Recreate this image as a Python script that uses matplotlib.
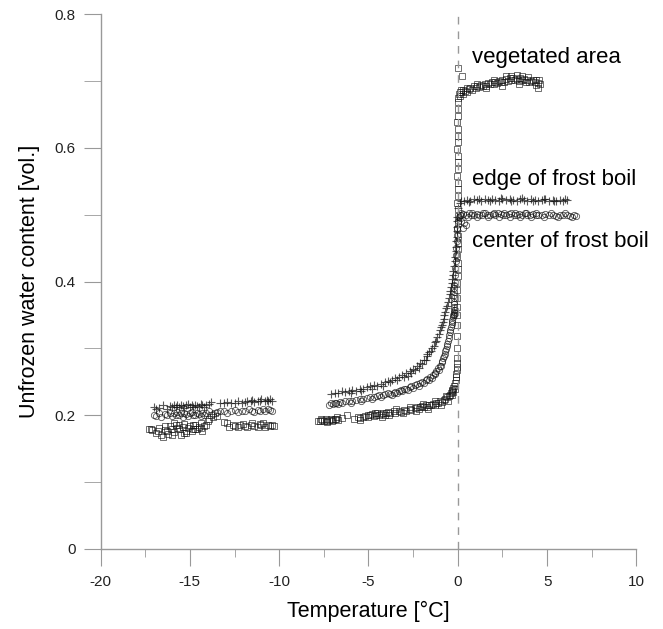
import matplotlib
matplotlib.use("Agg")
import matplotlib.pyplot as plt
from matplotlib.ticker import MultipleLocator

plt.rcParams['font.family'] = ['Liberation Sans', 'DejaVu Sans']
plt.rcParams['axes.unicode_minus'] = False

# (temperature [degC], unfrozen water content [vol.])

# vegetated area (squares)
veg_cold = [(-17.3, .179), (-17.2, .180), (-17.1, .178), (-16.9, .173), (-16.8, .176), (-16.7, .181),
            (-16.6, .170), (-16.5, .168), (-16.4, .184), (-16.3, .177), (-16.2, .172), (-16.1, .184),
            (-16.0, .179), (-15.9, .175), (-15.8, .186), (-15.7, .181), (-15.6, .179), (-15.5, .171),
            (-15.4, .183), (-15.3, .187), (-15.2, .176), (-15.1, .181), (-15.0, .184), (-14.9, .176),
            (-14.8, .186), (-14.7, .180), (-14.6, .179), (-14.5, .183), (-14.4, .188), (-14.3, .177),
            (-14.2, .184), (-16.4, .178), (-16.0, .170), (-15.6, .186), (-15.2, .174), (-14.8, .179),
            (-14.4, .181), (-15.9, .188), (-15.3, .173), (-14.7, .185),
            (-14.1, .186), (-14.0, .192), (-13.9, .195), (-13.8, .200), (-13.7, .197), (-13.6, .204),
            (-13.5, .199),
            (-13.1, .190), (-12.9, .188), (-12.8, .183), (-12.6, .186), (-12.5, .184), (-12.3, .182),
            (-12.2, .185), (-12.0, .187), (-11.9, .184), (-11.8, .182), (-11.6, .186), (-11.5, .188),
            (-11.4, .184), (-11.2, .183), (-11.1, .187), (-11.0, .185), (-10.9, .189), (-10.8, .183),
            (-10.6, .186), (-10.5, .184), (-10.4, .185), (-10.3, .184)]
veg_warm = [(-7.8, .192), (-7.7, .191), (-7.6, .193), (-7.5, .192), (-7.4, .194), (-7.3, .192),
            (-7.2, .193), (-7.1, .195), (-7.0, .193), (-6.9, .194), (-6.8, .195), (-6.7, .193),
            (-6.5, .196), (-6.2, .200), (-5.8, .195), (-5.6, .197), (-5.5, .196), (-5.3, .198),
            (-5.2, .199), (-5.0, .198), (-4.9, .200), (-4.8, .202), (-4.7, .199), (-4.6, .201),
            (-4.5, .203), (-4.4, .200), (-4.3, .202), (-4.2, .204), (-4.1, .201), (-4.0, .203),
            (-3.9, .205), (-3.8, .203), (-3.6, .206), (-3.5, .204), (-3.3, .207), (-3.2, .205),
            (-3.0, .208), (-2.9, .207), (-2.7, .210), (-2.6, .208), (-2.4, .211), (-2.3, .213),
            (-2.2, .210), (-2.1, .212), (-2.0, .214), (-1.9, .212), (-1.8, .215), (-1.7, .213),
            (-1.6, .216), (-1.5, .215), (-1.4, .217), (-1.3, .216), (-1.2, .219), (-1.1, .218),
            (-1.0, .221), (-0.9, .220), (-0.8, .223), (-0.7, .225), (-0.6, .227), (-0.5, .229),
            (-0.45, .231), (-0.4, .233), (-0.35, .236), (-0.3, .238), (-0.25, .241), (-0.2, .244),
            (-0.16, .248), (-0.13, .252), (-0.1, .257), (-0.08, .262), (-0.07, .267), (-0.06, .272),
            (-0.05, .278),
            (-7.65, .195), (-7.35, .190), (-7.05, .191), (-6.75, .197), (-5.45, .193), (-5.05, .201),
            (-4.65, .204), (-4.25, .198), (-3.85, .200), (-3.45, .209), (-3.05, .203), (-2.65, .213),
            (-2.35, .206), (-1.95, .217), (-1.65, .210), (-1.25, .222), (-0.95, .215), (-0.65, .229),
            (-0.55, .222), (-0.35, .230), (-0.25, .235), (-0.15, .240)]
veg_thaw = [(-0.05, .285), (-0.04, .300), (-0.04, .318), (-0.03, .335), (-0.03, .350), (-0.02, .362),
            (-0.03, .375), (-0.02, .388), (-0.02, .398), (0.0, .408), (-0.01, .418), (0.01, .428),
            (-0.02, .438), (0.0, .448), (-0.01, .458), (0.01, .468), (-0.02, .478), (0.0, .488),
            (-0.01, .498), (0.01, .508), (-0.02, .518), (0.0, .528), (-0.01, .538), (0.01, .548),
            (-0.02, .558), (0.0, .568), (-0.01, .578), (0.01, .588), (-0.02, .598), (0.0, .608),
            (-0.01, .618), (0.01, .628), (-0.02, .638), (0.0, .648), (-0.01, .658), (0.01, .668),
            (0.0, .675)]
veg_plateau = [(0.05, .680), (0.1, .683), (0.15, .686), (0.2, .684), (0.3, .687), (0.4, .685),
               (0.5, .689), (0.6, .688), (0.7, .690), (0.8, .687), (0.9, .692), (1.0, .690),
               (1.1, .693), (1.2, .691), (1.3, .694), (1.4, .692), (1.5, .696), (1.6, .693),
               (1.7, .697), (1.8, .695), (1.9, .698), (2.0, .696), (2.1, .699), (2.2, .697),
               (2.3, .700), (2.4, .698), (2.5, .702), (2.6, .699), (2.7, .703), (2.8, .700),
               (2.9, .704), (3.0, .701), (3.1, .705), (3.2, .702), (3.3, .703), (3.4, .700),
               (3.5, .704), (3.6, .701), (3.7, .703), (3.8, .699), (3.9, .701), (4.0, .698),
               (4.1, .700), (4.2, .702), (4.3, .699), (4.4, .701), (4.5, .697), (4.6, .696),
               (4.5, .689), (3.3, .709), (2.7, .707), (3.6, .708), (0.02, .720), (0.25, .707),
               (0.1, .678), (0.3, .681),
               (0.5, .683), (1.05, .696), (1.55, .690), (2.05, .702), (2.45, .693), (2.95, .708),
               (3.45, .696), (3.95, .706), (4.35, .694), (4.55, .702)]

# edge of frost boil (plus)
edge_cold = [(-17.0, .213), (-16.9, .209), (-16.7, .211), (-16.5, .215), (-16.3, .210), (-16.1, .214),
             (-16.0, .212), (-15.9, .216), (-15.8, .213), (-15.7, .215), (-15.6, .212), (-15.5, .216),
             (-15.4, .214), (-15.3, .211), (-15.2, .215), (-15.1, .217), (-15.0, .213), (-14.9, .215),
             (-14.8, .212), (-14.7, .216), (-14.6, .214), (-14.5, .213), (-14.4, .217), (-14.3, .215),
             (-14.2, .213), (-14.1, .215), (-13.9, .217), (-13.8, .220),
             (-13.3, .218), (-13.1, .219), (-12.9, .220), (-12.7, .218), (-12.5, .219), (-12.3, .221),
             (-12.1, .219), (-11.9, .220), (-11.8, .222), (-11.6, .221), (-11.5, .223), (-11.4, .220),
             (-11.2, .222), (-11.1, .221), (-11.0, .224), (-10.8, .222), (-10.7, .223), (-10.6, .221),
             (-10.5, .224), (-10.4, .222)]
edge_warm = [(-7.1, .232), (-6.9, .234), (-6.7, .233), (-6.5, .236), (-6.3, .235), (-6.1, .237),
             (-5.9, .238), (-5.7, .237), (-5.5, .240), (-5.3, .239), (-5.1, .242), (-4.9, .243),
             (-4.7, .245), (-4.5, .244), (-4.3, .247), (-4.1, .249), (-3.9, .251), (-3.7, .253),
             (-3.5, .255), (-3.3, .257), (-3.1, .260), (-2.9, .263), (-2.7, .266), (-2.5, .269),
             (-2.3, .273), (-2.1, .278), (-1.9, .283), (-1.75, .288), (-1.6, .295), (-1.45, .301),
             (-1.3, .309), (-1.15, .317), (-1.0, .327), (-0.9, .335), (-0.8, .344), (-0.7, .354),
             (-0.6, .364), (-0.5, .375), (-0.42, .386), (-0.35, .398), (-0.28, .410), (-0.22, .423),
             (-0.16, .437), (-0.11, .452), (-0.07, .467), (-0.04, .482), (-0.02, .497), (0.0, .510),
             (-6.0, .233), (-5.4, .236), (-4.8, .240), (-4.2, .244), (-3.8, .249), (-3.4, .252),
             (-3.0, .257), (-2.8, .258), (-2.6, .263), (-2.4, .267), (-2.2, .271), (-2.0, .276),
             (-1.8, .282), (-1.7, .292), (-1.5, .296), (-1.35, .304), (-1.2, .311), (-1.05, .322),
             (-0.95, .332), (-0.85, .340), (-0.75, .350), (-0.65, .360), (-0.55, .370), (-0.45, .381),
             (-0.38, .392), (-0.3, .404), (-0.25, .416), (-0.18, .430), (-0.13, .445), (-0.09, .460),
             (-0.05, .475), (-0.03, .490)]
edge_plateau = [(0.1, .517), (0.2, .520), (0.35, .521), (0.5, .522), (0.7, .521), (0.9, .523),
                (1.1, .522), (1.3, .521), (1.5, .523), (1.7, .522), (1.9, .524), (2.1, .522),
                (2.3, .521), (2.5, .523), (2.7, .522), (2.9, .524), (3.1, .522), (3.3, .521),
                (3.5, .523), (3.7, .522), (3.9, .521), (4.1, .523), (4.3, .522), (4.5, .521),
                (4.7, .522), (4.9, .523), (5.1, .521), (5.3, .522), (5.5, .521), (5.7, .522),
                (5.9, .521), (6.1, .522),
                (0.6, .519), (1.2, .524), (1.8, .520), (2.4, .525), (3.0, .520), (3.6, .525),
                (4.2, .520), (4.8, .524), (5.4, .520), (6.0, .524)]

# center of frost boil (circles)
center_cold = [(-17.0, .201), (-16.9, .199), (-16.7, .203), (-16.6, .198), (-16.4, .202), (-16.3, .200),
               (-16.1, .204), (-16.0, .199), (-15.9, .203), (-15.8, .201), (-15.7, .205), (-15.6, .200),
               (-15.5, .203), (-15.4, .198), (-15.3, .204), (-15.2, .202), (-15.1, .199), (-15.0, .203),
               (-14.9, .205), (-14.8, .201), (-14.7, .200), (-14.6, .204), (-14.5, .202), (-14.4, .199),
               (-14.3, .203), (-14.2, .201), (-14.1, .204),
               (-13.9, .206), (-13.7, .202), (-13.5, .205), (-13.3, .207),
               (-13.1, .207), (-12.9, .204), (-12.7, .206), (-12.5, .208), (-12.3, .205), (-12.1, .207),
               (-11.9, .206), (-11.7, .209), (-11.5, .207), (-11.4, .205), (-11.2, .208), (-11.1, .206),
               (-10.9, .209), (-10.8, .207), (-10.6, .210), (-10.5, .208), (-10.4, .207)]
center_warm = [(-7.2, .216), (-7.1, .218), (-7.0, .217), (-6.9, .219), (-6.8, .218), (-6.6, .220),
               (-6.5, .219), (-6.3, .221), (-6.1, .222), (-5.9, .221), (-5.7, .223), (-5.5, .224),
               (-5.3, .225), (-5.1, .226), (-4.9, .228), (-4.7, .227), (-4.5, .229), (-4.4, .231),
               (-4.2, .230), (-4.1, .232), (-3.9, .233), (-3.8, .232), (-3.6, .234), (-3.5, .235),
               (-3.3, .236), (-3.2, .238), (-3.0, .239), (-2.9, .240), (-2.7, .242), (-2.6, .243),
               (-2.4, .245), (-2.3, .247), (-2.1, .248), (-2.0, .250), (-1.8, .252), (-1.7, .254),
               (-1.55, .257), (-1.4, .260), (-1.3, .263), (-1.2, .266), (-1.1, .270), (-1.0, .274),
               (-0.9, .279), (-0.82, .285), (-0.74, .292), (-0.66, .299), (-0.58, .307), (-0.5, .316),
               (-0.44, .324), (-0.38, .332), (-0.32, .340), (-0.27, .347), (-0.23, .352), (-0.2, .355),
               (-0.19, .362), (-0.21, .370), (-0.22, .380), (-0.2, .390), (-0.18, .400), (-0.16, .410),
               (-0.14, .420), (-0.12, .430), (-0.1, .440), (-0.08, .450), (-0.06, .460), (-0.04, .470),
               (-0.02, .480), (0.0, .490), (0.05, .497),
               (-6.7, .217), (-6.0, .219), (-5.4, .222), (-4.8, .225), (-4.3, .228), (-3.7, .231),
               (-3.4, .233), (-3.1, .236), (-2.8, .238), (-2.5, .241), (-2.2, .244), (-1.9, .248),
               (-1.6, .252), (-1.45, .255), (-1.25, .261), (-1.05, .268), (-0.95, .274), (-0.86, .281),
               (-0.78, .288), (-0.7, .296), (-0.62, .303), (-0.54, .311), (-0.47, .320), (-0.41, .328),
               (-0.35, .336), (-0.3, .343), (-0.25, .350), (-0.22, .350), (-0.18, .353), (-0.17, .358),
               (-0.24, .357), (-0.23, .366), (-0.24, .375), (-0.22, .385), (-0.2, .395)]
center_plateau = [(0.1, .500), (0.2, .499), (0.3, .501), (0.45, .500), (0.6, .502), (0.75, .499),
                  (0.9, .500), (1.05, .501), (1.2, .499), (1.35, .500), (1.5, .502), (1.65, .500),
                  (1.8, .499), (1.95, .501), (2.1, .500), (2.25, .502), (2.4, .501), (2.55, .499),
                  (2.7, .500), (2.85, .501), (3.0, .502), (3.15, .500), (3.3, .499), (3.45, .501),
                  (3.6, .500), (3.75, .502), (3.9, .500), (4.05, .499), (4.2, .501), (4.35, .500),
                  (4.5, .499), (4.7, .500), (4.9, .501), (5.1, .499), (5.3, .500), (5.5, .498),
                  (5.7, .500), (5.9, .499), (6.1, .500), (6.3, .498), (6.5, .499), (6.6, .498),
                  (0.3, .480), (0.35, .487), (0.2, .490), (0.45, .484),
                  (0.15, .503), (0.55, .497), (0.8, .503), (1.1, .497), (1.4, .503), (1.7, .497),
                  (2.0, .503), (2.3, .497), (2.6, .503), (2.9, .497), (3.2, .503), (3.5, .497),
                  (3.8, .503), (4.1, .497), (4.4, .503), (4.8, .497), (5.2, .502), (5.6, .497),
                  (6.0, .502), (6.4, .497)]

vegetated = veg_cold + veg_warm + veg_thaw + veg_plateau
edge = edge_cold + edge_warm + edge_plateau
center = center_cold + center_warm + center_plateau

fig = plt.figure(figsize=(6.63, 6.29), dpi=100)
ax = fig.add_axes([0.1516, 0.1272, 0.8084, 0.8505])

mk = dict(linestyle='none', markerfacecolor='none', alpha=0.7)
ax.plot([p[0] for p in vegetated], [p[1] for p in vegetated], marker='s', markersize=4.5,
        markeredgecolor='#111111', markeredgewidth=0.6, **mk)
ax.plot([p[0] for p in edge], [p[1] for p in edge], marker='+', markersize=5.5,
        markeredgecolor='#111111', markeredgewidth=0.8, **mk)
ax.plot([p[0] for p in center], [p[1] for p in center], marker='o', markersize=4.5,
        markeredgecolor='#111111', markeredgewidth=0.6, **mk)

# freezing point
ax.plot([0, 0], [0, 0.8], color='#999999', linewidth=1, dashes=(5.5, 5))

ax.text(0.8, 0.735, 'vegetated area', fontsize=16, va='center')
ax.text(0.8, 0.552, 'edge of frost boil', fontsize=16, va='center')
ax.text(0.8, 0.460, 'center of frost boil', fontsize=16, va='center')

ax.set_xlim(-20, 10)
ax.set_ylim(0, 0.8)
ax.xaxis.set_major_locator(MultipleLocator(5))
ax.xaxis.set_minor_locator(MultipleLocator(2.5))
ax.yaxis.set_minor_locator(MultipleLocator(0.1))
ax.set_yticks([0, 0.2, 0.4, 0.6, 0.8])
ax.set_yticklabels(['0', '0.2', '0.4', '0.6', '0.8'])

for s in ['top', 'right']:
    ax.spines[s].set_visible(False)
for s in ['left', 'bottom']:
    ax.spines[s].set_color('#999999')
    ax.spines[s].set_linewidth(1)

ax.tick_params(axis='x', which='major', length=12, color='#999999', pad=7, labelsize=11,
               labelcolor='#222222')
ax.tick_params(axis='x', which='minor', length=6, color='#999999')
ax.tick_params(axis='y', which='both', length=12, color='#999999', pad=6, labelsize=11,
               labelcolor='#222222')

ax.set_xlabel('Temperature [°C]', fontsize=15.5, labelpad=8)
ax.set_ylabel('Unfrozen water content [vol.]', fontsize=15.5, labelpad=10)

fig.savefig('out.png', dpi=100)
